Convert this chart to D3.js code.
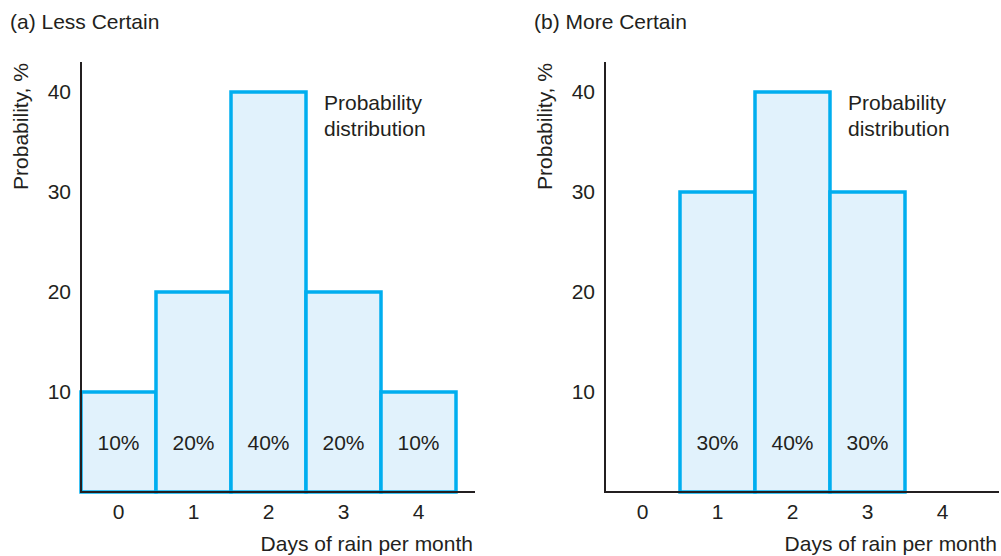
<!DOCTYPE html>
<html><head><meta charset="utf-8">
<script src="https://cdn.jsdelivr.net/npm/d3@7"></script>
<style>
html,body{margin:0;padding:0;background:#fff;}
svg{display:block;font-family:"Liberation Sans",Arial,Helvetica,sans-serif;}
</style></head>
<body>
<script>
const categories = [0, 1, 2, 3, 4];
const lessCertain = [10, 20, 40, 20, 10];
const moreCertain = [0, 30, 40, 30, 0];
const yTicks = [10, 20, 30, 40];
const panelTitles = ["(a) Less Certain", "(b) More Certain"];
const panelData = [lessCertain, moreCertain];

const W = 1001, H = 556;
const svg = d3.select("body").append("svg").attr("width", W).attr("height", H);
const textColor = "#231f20";
const barStroke = "#00aeef";
const barFill = "#e1f2fc";
const fs = 21;

panelData.forEach((vals, p) => {
  const ox = 81 + p * 524;
  const g = svg.append("g").attr("transform", `translate(${ox},0)`);
  const x = d3.scaleBand().domain(categories).range([0, 375]).padding(0);
  const y = d3.scaleLinear().domain([0, 43]).range([492, 62]);

  // bars
  const data = categories.map((c, i) => ({c, v: vals[i]})).filter(d => d.v > 0);
  g.selectAll("rect.bar").data(data).join("rect")
    .attr("class", "bar")
    .attr("x", d => x(d.c))
    .attr("y", d => y(d.v))
    .attr("width", x.bandwidth())
    .attr("height", d => y(0) - y(d.v))
    .attr("fill", barFill)
    .attr("stroke", barStroke)
    .attr("stroke-width", 3.5);

  // percent labels
  g.selectAll("text.pct").data(data).join("text")
    .attr("class", "pct")
    .attr("x", d => x(d.c) + x.bandwidth() / 2)
    .attr("y", 450)
    .attr("text-anchor", "middle")
    .attr("font-size", fs)
    .attr("fill", textColor)
    .text(d => d.v + "%");

  // y axis
  const ya = g.append("g").call(d3.axisLeft(y).tickValues(yTicks).tickSize(0).tickPadding(10));
  ya.select(".domain").remove();
  ya.selectAll("text").attr("font-size", fs).attr("fill", textColor).attr("font-family", null);
  g.append("line").attr("x1", 0).attr("x2", 0).attr("y1", y(43)).attr("y2", y(0) + 1)
    .attr("stroke", textColor).attr("stroke-width", 2);

  // x axis
  const xa = g.append("g").attr("transform", `translate(0,${y(0)})`)
    .call(d3.axisBottom(x).tickSize(0).tickPadding(12));
  xa.select(".domain").remove();
  xa.selectAll("text").attr("font-size", fs).attr("fill", textColor).attr("font-family", null);
  g.append("line").attr("x1", -1).attr("x2", 394).attr("y1", y(0)).attr("y2", y(0))
    .attr("stroke", textColor).attr("stroke-width", 2);

  // axis titles
  g.append("text").attr("x", 392).attr("y", 551).attr("text-anchor", "end")
    .attr("font-size", fs).attr("fill", textColor).text("Days of rain per month");
  g.append("text").attr("transform", `translate(${28 - ox + p*524},126.5) rotate(-90)`)
    .attr("text-anchor", "middle").attr("font-size", fs).attr("fill", textColor)
    .text("Probability, %");

  // panel title
  g.append("text").attr("x", 10 - 81).attr("y", 29).attr("font-size", fs)
    .attr("fill", textColor).text(panelTitles[p]);

  // annotation
  const ann = g.append("text").attr("x", 243).attr("y", 110).attr("font-size", fs).attr("fill", textColor);
  ann.append("tspan").attr("x", 243).text("Probability");
  ann.append("tspan").attr("x", 243).attr("dy", 26).text("distribution");
});
</script>
</body></html>
